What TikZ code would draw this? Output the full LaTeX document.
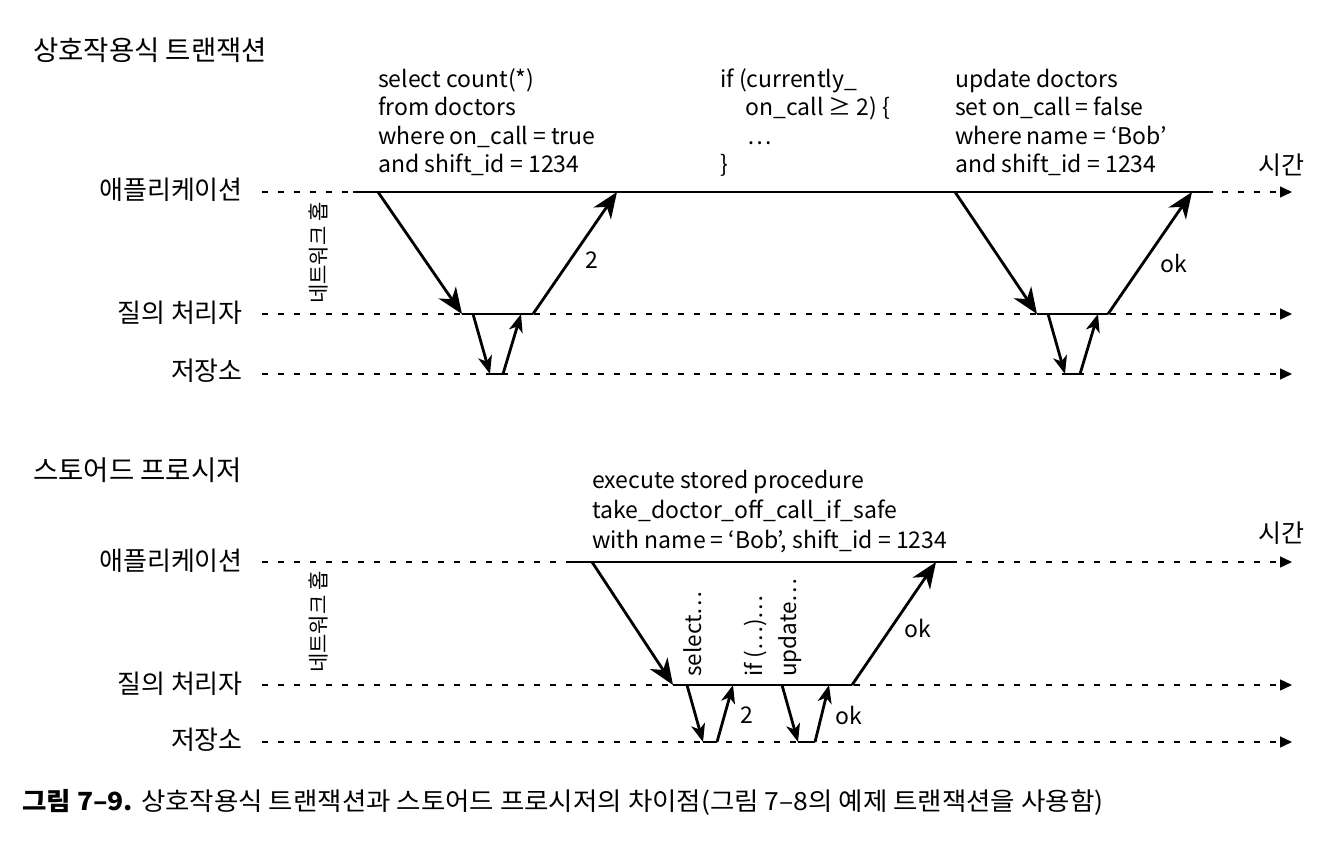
\documentclass[tikz,border=0pt]{standalone}
\usepackage{fontspec}
\setmainfont{Noto Sans CJK KR}
\usetikzlibrary{arrows.meta}
\begin{document}
\begin{tikzpicture}[x=1pt,y=-1pt,
  lab/.style={anchor=east, font=\fontsize{26}{30}\selectfont, inner sep=0},
  ttl/.style={anchor=west, font=\fontsize{27.5}{32}\selectfont, inner sep=0},
  code/.style={anchor=base west, font=\fontsize{23}{27}\selectfont, inner sep=0},
  hop/.style={rotate=90, font=\fontsize{21}{24}\selectfont, inner sep=0},
  vlab/.style={rotate=90, anchor=west, font=\fontsize{22.5}{26}\selectfont, inner sep=0},
  val/.style={font=\fontsize{23}{27}\selectfont, inner sep=0},
  tml/.style={font=\fontsize{25}{29}\selectfont, inner sep=0},
  tl/.style={dash pattern=on 6pt off 10pt, line width=1.3pt, -{Triangle[length=12pt,width=11pt]}},
  msg/.style={line width=2.8pt, -{Stealth[length=26pt,width=21pt,inset=8pt]}},
  sm/.style={line width=2.8pt, -{Stealth[length=18pt,width=14pt,inset=5pt]}},
  seg/.style={line width=2.8pt},
]
\useasboundingbox (0,0) rectangle (1330,842);

% ---------- top section ----------
\node[ttl] (t1) at (33,50) {상호작용식 트랜잭션};
\node[lab] (la1) at (243,190) {애플리케이션};
\node[lab] (lq1) at (243,313) {질의 처리자};
\node[lab] (ls1) at (243,371) {저장소};
\node[tml] (time1) at (1281,165) {시간};
\node[hop] (hop1) at (318,253) {네트워크 홉};

\coordinate (da1) at (262,192); \coordinate (ea1) at (1292,192);
\coordinate (dq1) at (262,314); \coordinate (eq1) at (1292,314);
\coordinate (ds1) at (262,374); \coordinate (es1) at (1292,374);
\draw[tl] (da1) -- (ea1);
\draw[tl] (dq1) -- (eq1);
\draw[tl] (ds1) -- (es1);

\coordinate (A0) at (353,192); \coordinate (A9) at (1213,192);
\draw[seg,line cap=butt] (A0) -- (A9);

\coordinate (a1) at (378,192); \coordinate (q1) at (462,314);
\coordinate (q2) at (533,314); \coordinate (a2) at (617,192);
\coordinate (q3) at (473,314); \coordinate (s1) at (490,374);
\coordinate (s2) at (503,374); \coordinate (q4) at (521,314);
\draw[msg] (a1) -- (q1);
\draw[seg] (q1) -- (q2);
\draw[msg] (q2) -- (a2);
\draw[sm] (q3) -- (s1);
\draw[seg] (s1) -- (s2);
\draw[sm] (s2) -- (q4);
\node[val] (v2a) at (592,260) {2};

\coordinate (a3) at (955,192); \coordinate (q5) at (1037,314);
\coordinate (q6) at (1108,314); \coordinate (a4) at (1192,192);
\coordinate (q7) at (1048,314); \coordinate (s3) at (1065,374);
\coordinate (s4) at (1080,374); \coordinate (q8) at (1098,314);
\draw[msg] (a3) -- (q5);
\draw[seg] (q5) -- (q6);
\draw[msg] (q6) -- (a4);
\draw[sm] (q7) -- (s3);
\draw[seg] (s3) -- (s4);
\draw[sm] (s4) -- (q8);
\node[val] (vok1) at (1174,263) {ok};

\node[code] (c11) at (378,88) {select count(*)};
\node[code] (c12) at (378,116) {from doctors};
\node[code] (c13) at (378,145) {where on\_call = true};
\node[code] (c14) at (378,173) {and shift\_id = 1234};

\node[code] (c21) at (720,88) {if (currently\_};
\node[code] (c22) at (745,116) {on\_call ≥ 2) \{};
\node[code] (c23) at (747,145) {…};
\node[code] (c24) at (720,173) {\}};

\node[code] (c31) at (955,88) {update doctors};
\node[code] (c32) at (955,116) {set on\_call = false};
\node[code] (c33) at (955,145) {where name = ‘Bob’};
\node[code] (c34) at (955,173) {and shift\_id = 1234};

% ---------- bottom section ----------
\node[ttl] (t2) at (33,470) {스토어드 프로시저};
\node[lab] (la2) at (243,561) {애플리케이션};
\node[lab] (lq2) at (243,684) {질의 처리자};
\node[lab] (ls2) at (243,740) {저장소};
\node[tml] (time2) at (1281,533) {시간};
\node[hop] (hop2) at (318,622) {네트워크 홉};

\coordinate (da2) at (262,562); \coordinate (ea2) at (1292,562);
\coordinate (dq2) at (262,685); \coordinate (eq2) at (1292,685);
\coordinate (ds2) at (262,742); \coordinate (es2) at (1292,742);
\draw[tl] (da2) -- (ea2);
\draw[tl] (dq2) -- (eq2);
\draw[tl] (ds2) -- (es2);

\coordinate (B0) at (567,562); \coordinate (B9) at (957,562);
\draw[seg,line cap=butt] (B0) -- (B9);

\coordinate (b1) at (592,562); \coordinate (bq1) at (673,685);
\coordinate (bq2) at (852,685); \coordinate (b2) at (936,562);
\draw[msg] (b1) -- (bq1);
\draw[seg] (bq1) -- (bq2);
\draw[msg] (bq2) -- (b2);
\node[val] (vok2) at (918,628) {ok};

\coordinate (bq3) at (687,685); \coordinate (bs1) at (703,742);
\coordinate (bs2) at (717,742); \coordinate (bq4) at (733,685);
\draw[sm] (bq3) -- (bs1);
\draw[seg] (bs1) -- (bs2);
\draw[sm] (bs2) -- (bq4);
\node[val] (v2b) at (747,715) {2};

\coordinate (bq5) at (782,685); \coordinate (bs3) at (798,742);
\coordinate (bs4) at (815,742); \coordinate (bq6) at (829,685);
\draw[sm] (bq5) -- (bs3);
\draw[seg] (bs3) -- (bs4);
\draw[sm] (bs4) -- (bq6);
\node[val] (vok3) at (849,715) {ok};

\node[vlab] (r1) at (693,677) {select…};
\node[vlab] (r2) at (755,677) {if (…)…};
\node[vlab] (r3) at (790,677) {update…};

\node[code] (d1) at (592,488) {execute stored procedure};
\node[code] (d2) at (592,518) {take\_doctor\_off\_call\_if\_safe};
\node[code] (d3) at (592,548) {with name = ‘Bob’, shift\_id = 1234};

% ---------- caption ----------
\node[anchor=west, inner sep=0, font=\fontsize{25}{29}\selectfont] (cap) at (22,802)
  {\scalebox{1.06}[1]{\textbf{그림 7–9.} 상호작용식 트랜잭션과 스토어드 프로시저의 차이점(그림 7–8의 예제 트랜잭션을 사용함)}};
\end{tikzpicture}
\end{document}
